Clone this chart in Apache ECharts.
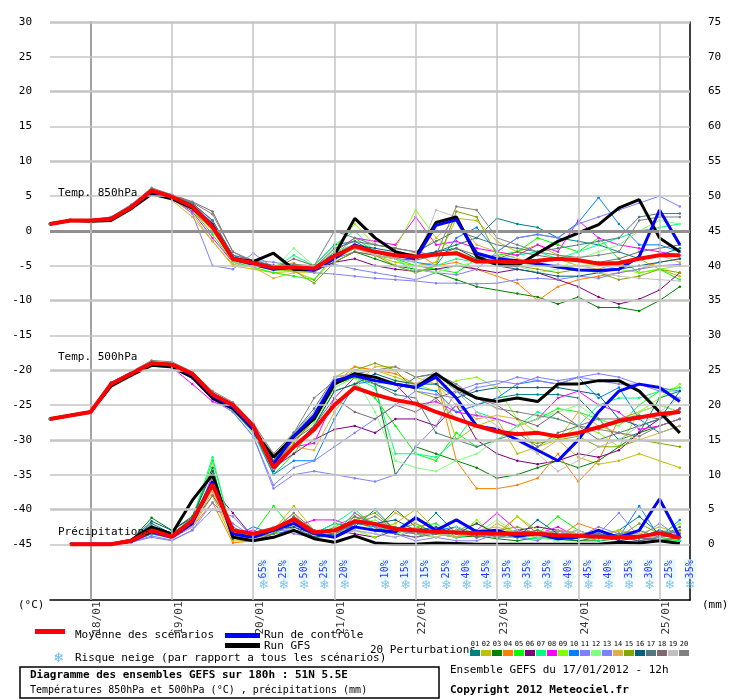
<!DOCTYPE html>
<html><head><meta charset="utf-8">
<script src="https://cdn.jsdelivr.net/npm/echarts@6/dist/echarts.min.js"></script>
<style>html,body{margin:0;padding:0;background:#fff}#c{width:740px;height:700px}</style>
</head><body><div id="c"></div>
<script>
// hours since 18/01 00h (run 17/01 12h)
const hours = [-12,-6,0,6,12,18,24,30,36,42,48,54,60,66,72,78,84,90,96,102,108,114,120,126,132,138,144,150,156,162,168,174];
const dateTicks = [0,24,48,72,96,120,144,168];
const dateLabels = ['18/01','19/01','20/01','21/01','22/01','23/01','24/01','25/01'];
const leftTicks = [30,25,20,15,10,5,0,-5,-10,-15,-20,-25,-30,-35,-40,-45];

const t850Mean = [1,1.5,1.5,1.7,3.4,5.8,4.9,3.5,0.6,-4,-4.6,-5.3,-5.2,-5.4,-3.6,-2.2,-3,-3.5,-3.7,-3.4,-3.2,-4.4,-4.4,-4.5,-4.3,-4,-4.2,-4.7,-4.6,-4,-3.5,-3.5];
const t850GFS = [1,1.5,1.4,1.5,3.2,5.3,4.6,3.3,0.8,-4,-4.4,-3.2,-5.5,-5.6,-3.5,1.8,-1,-3,-3.7,1.2,2,-3.7,-4.8,-5,-3.2,-1.5,-0.3,0.9,3.3,4.5,-1,-3];
const t850Ctrl = [1,1.5,1.5,1.7,3.4,5.6,4.8,3.5,0.5,-4,-4.8,-5.5,-5.2,-5.6,-4,-2,-3,-3.5,-4,0.8,1.6,-3.2,-4,-4.3,-4.7,-5.2,-5.6,-5.7,-5.5,-3.7,3,-2];
const t850P01 = [1,1.5,1.5,1.8,3.5,5.9,5.1,4,1.5,-3.5,-4.8,-5.5,-5.5,-5,-2,-1.5,-3,-3.5,-4,-3,-2,-1,1.8,1,0.5,-1,-1.5,-2,-3,-4,-3.5,-2.5];
const t850P02 = [1,1.5,1.5,1.6,3.3,5.6,4.6,2.5,-1.5,-5,-5.5,-6,-5.8,-7,-4,-2,-3.5,-4.5,-5,-4.5,1.8,1.5,-1.5,-3,-2,-3.5,-4,-4.5,-5,-4,-5.5,-6.5];
const t850P03 = [1,1.5,1.5,1.7,3.4,5.7,4.8,3.4,0.5,-4.2,-4.8,-5.3,-5.4,-5.6,-4.5,-3,-4,-5,-5.5,-6,-7,-8,-8.5,-9,-9.5,-10.5,-9.5,-11,-11,-11.5,-10,-8];
const t850P04 = [1,1.5,1.5,1.7,3.3,5.5,4.6,3,0,-4.3,-5,-5,-4.6,-6,-4,-2.5,-3.5,-4,-3,-5,-4.5,-5.5,-6.5,-7.5,-10,-8,-7,-6.5,-6,-5.5,-4.5,-4];
const t850P05 = [1,1.5,1.5,1.7,3.5,5.8,4.7,3,-0.5,-4.5,-5.2,-6,-6.5,-7,-3.5,-1,-3,-4,-5,-5.5,-6,-4,-3.5,-3,-1,-2,-3,-1,-4,-6,-5.5,-7];
const t850P06 = [1,1.5,1.5,1.7,3.4,5.7,4.8,3.4,0.6,-4,-4.5,-5,-5.5,-5.8,-4.5,-4,-5,-5.5,-5.8,-5.5,-5,-5.5,-6,-5.5,-6,-7,-8,-9.5,-10.5,-9.8,-8.5,-6];
const t850P07 = [1,1.5,1.5,1.7,3.4,5.9,5,3.6,0.8,-4,-4.7,-5.4,-3.5,-5,-2,0,-3,-4,-6,-5,-4,-4.5,-4,-3.5,-3,-4,-3,-2,-1,0,0.5,1];
const t850P08 = [1,1.5,1.5,1.7,3.4,5.8,4.7,2.8,-1,-4.5,-5,-5.5,-5.2,-5.5,-3,-1,-1.5,-2,2,-2,-1.5,-2.5,-3,-3.5,-2,-3,1.5,-1,-2,-2.5,-3,-3.5];
const t850P09 = [1,1.5,1.5,1.7,3.4,5.7,4.9,3.3,0.3,-4.2,-5,-5.6,-5.8,-6,-2.5,1,-2,-2.5,3,-1,-3,-4,-4.2,-4.5,-5,-5.2,-5,-4.8,-5.5,-6,-5.5,-5];
const t850P10 = [1,1.5,1.5,1.8,3.5,5.9,5,3.8,1,-3.8,-4.5,-5.3,-5.6,-5.5,-3,-2,-3,-4,-4.5,-5,-1,0.5,-3,-1,-0.5,-1,1.2,4.8,1,-2,-2,-3];
const t850P11 = [1,1.6,1.6,2,3.7,6,5,3.9,1.2,-3.5,-4.2,-4.5,-5,-5.5,-4.8,-5.5,-6,-6.5,-7,-6,-6.3,-5.5,-3,-1,-0.5,-1,1,2,3,4,5,3.5];
const t850P12 = [1,1.5,1.5,1.5,3.2,5.5,4.6,3.2,0.2,-4.5,-5,-5.5,-2.5,-5,-3,-2,-3.5,-4,-5.5,-6,-5,-4.5,-4.8,-5,-6,-5.5,-4,-3,-2,0,1.5,1];
const t850P13 = [1,1.6,1.6,1.9,3.6,6,4.8,2.5,-5,-5.5,-3.2,-5.3,-5.6,-6,-6.2,-6.5,-6.8,-7,-7.2,-7.5,-7.5,-7.6,-7.5,-7,-6.8,-7,-6.5,-6.8,-6,-5.5,-5,-4.8];
const t850P14 = [1,1.5,1.5,1.6,3.2,5.4,4.4,2,-1.5,-4.8,-5.2,-6.8,-6,-5.8,-4,-2.5,-3,-4,-3.5,-1,1.6,-2,-3,-4,-4.5,-4,-5,-5.5,-4.5,-4,-3.5,-4.5];
const t850P15 = [1,1.5,1.5,1.7,3.4,5.6,4.7,3.2,0.4,-4.3,-4.8,-5.5,-5.7,-7.5,-4.5,-3,-3.5,-5,-6,-5,2.8,2,-3.5,-5,-5.5,-6,-5.5,-6,-7,-6.5,-5.5,-6];
const t850P16 = [1,1.5,1.5,1.8,3.5,5.8,5.1,3.8,1,-3.8,-4.5,-5,-5.3,-5.6,-3.5,-2,-2.5,-3,-3.5,-3,-2.5,-4,-5,-5.5,-6,-6.5,-6.5,-6,-5.5,-5,-4.5,-4];
const t850P17 = [1,1.5,1.5,1.8,3.6,5.9,5.2,4,1.5,-3.5,-4.2,-5,-5.5,-5.3,-2.5,-1.5,-2,-2.5,-3,-1.5,0,-1,-2,-2.5,-3,-2.5,-2,-1.5,-1,2,2.5,2.5];
const t850P18 = [1,1.5,1.5,1.8,3.6,5.9,5.2,4.2,2.8,-3,-4.5,-5.5,-4,-5,-4,-3,-3.5,-4,-4.2,-3.5,-2.5,-3.5,-4,-3,-3.5,-4,-4.2,-4.5,-4,-3,-2.5,-2];
const t850P19 = [1,1.5,1.5,1.7,3.4,5.7,4.8,3.4,0.5,-4,-4.6,-5.2,-5.4,-5.5,-3.5,-2.5,-3.5,-4,-4.5,3,2,-3,-4,-4.5,-5,-4.8,-5.5,-6,-6.5,-6.8,-7,-7.2];
const t850P20 = [1,1.6,1.6,2,3.8,6.2,5.2,4.1,2.4,-3,-4.3,-5.3,-4.8,-5,0,-1,-2,-2.5,-3,-3.5,3.5,3,-1,-2,-3,-3.5,-3.8,-3.5,-3,1.5,2,2];

const t500Mean = [-27,-26.5,-26,-22,-20.5,-19,-19.2,-20.5,-23.5,-25,-28,-34,-31,-28.5,-25,-22.5,-23.5,-24.3,-24.8,-26,-27,-28,-28.8,-29.2,-29,-29.5,-29,-28.2,-27.3,-26.8,-26.3,-26];
const t500GFS = [-27,-26.5,-26,-22.3,-20.7,-19.3,-19.5,-21,-24,-25.5,-28.5,-32.5,-29.5,-27,-22,-20.5,-21,-22,-22.5,-20.5,-22.5,-24,-24.5,-24,-24.5,-22,-22,-21.5,-21.5,-23,-26,-29];
const t500Ctrl = [-27,-26.5,-26,-22,-20.5,-19,-19.2,-20.7,-23.7,-25.3,-28.5,-33.5,-29.5,-26.5,-21.5,-20.8,-21.5,-22,-22.5,-21,-24,-28,-28.5,-30,-31.5,-33,-30,-26,-23,-22,-22.5,-24.5];
const t500P01 = [-27,-26.5,-26,-21.8,-20.3,-18.8,-19,-20.3,-23.2,-24.8,-27.8,-33,-30,-27,-22,-21,-22,-23,-21,-20.5,-23,-25,-24,-23.5,-23.5,-23.5,-24,-27,-30,-29,-24,-23];
const t500P02 = [-27,-26.5,-26,-22.2,-20.6,-19.2,-19.5,-21,-24,-25.5,-28.5,-34,-30,-27,-21,-19.5,-20,-21,-22,-21,-30,-28,-27,-32,-31,-30,-32.5,-33.5,-33,-32,-33,-34];
const t500P03 = [-27,-26.5,-26,-21.9,-20.4,-18.9,-19.1,-20.6,-23.4,-25,-28,-33,-29,-26,-22,-21,-22,-35,-31,-32,-33,-34,-35.5,-35,-34,-33,-34,-33,-31,-29,-28,-27];
const t500P04 = [-27,-26.5,-26,-22,-20.6,-19,-19.3,-20.8,-23.8,-25.4,-28.4,-34,-30,-27,-22,-19.5,-20,-20.5,-22,-21,-33,-37,-37,-36.5,-35.5,-32,-36,-33,-27,-26,-25,-26];
const t500P05 = [-27,-26.5,-26,-22.1,-20.5,-19.1,-19.3,-20.9,-24,-25.8,-29,-35,-32,-28,-23,-22,-24,-28,-32,-33,-29,-31,-30,-28,-27,-25.5,-26,-27,-28,-25,-23,-22.5];
const t500P06 = [-27,-26.5,-26,-22,-20.5,-19,-19.2,-20.6,-23.6,-25.2,-28.2,-34,-32,-30,-28.5,-28,-29,-27,-27,-28,-25,-30,-32,-33,-33.5,-33,-32,-32.5,-31.5,-29,-27,-25.5];
const t500P07 = [-27,-26.5,-26,-21.9,-20.4,-19,-19.1,-20.4,-23.3,-24.9,-27.8,-33,-29,-27,-21.5,-21,-22.5,-32,-32,-32.5,-30,-26,-27,-28,-26,-27,-28,-25,-24,-24,-23,-23];
const t500P08 = [-27,-26.5,-26,-22.1,-20.6,-19.1,-19.6,-22,-24.5,-25.6,-28.6,-34,-31,-30.5,-24,-21,-21,-22,-25,-24.5,-26,-26.5,-27,-28,-27,-24,-23,-25,-26,-28.5,-28,-27];
const t500P09 = [-27,-26.5,-26,-22,-20.5,-18.8,-19,-20.4,-23.4,-25,-28,-33,-30,-27.5,-22.5,-21,-22,-21.5,-22,-23,-21.5,-21,-22.5,-27,-29,-30,-28,-29,-31,-26,-24,-22];
const t500P10 = [-27,-26.5,-26,-22,-20.6,-19.1,-19.4,-20.8,-23.8,-25.5,-28.6,-35,-33,-33,-27,-22,-21.5,-22,-22.5,-23,-26,-25,-24,-22,-21.5,-22,-21,-24,-22.5,-27,-29,-28];
const t500P11 = [-27,-26.5,-26,-22.2,-20.8,-19.4,-19.7,-21.2,-24.2,-26,-29.5,-37,-35,-34.5,-35,-35.5,-36,-35,-31,-28,-23,-22,-21.5,-22,-21,-21.5,-21,-21.5,-22,-22,-23,-24];
const t500P12 = [-27,-26.5,-26,-21.9,-20.4,-19,-19.2,-20.5,-23.5,-25.1,-28.1,-33,-30,-27.5,-22.5,-21,-26,-33,-34,-34.5,-33,-32,-30,-28,-27,-26,-25,-27,-28,-26,-25,-26];
const t500P13 = [-27,-26.5,-26,-22.3,-20.8,-19.3,-19.6,-21,-24.2,-26,-29.5,-36.5,-34,-33,-31,-29,-27,-25,-23,-23.5,-24,-22.5,-22,-21,-21.5,-22,-21,-20.5,-21,-22,-22.5,-23];
const t500P14 = [-27,-26.5,-26,-22,-20.5,-19.2,-19.4,-20.8,-23.9,-25.5,-28.5,-34,-31,-31.5,-26,-22,-19.5,-19.5,-21,-22,-25,-27,-26.5,-27,-32,-30,-26,-28,-29,-30,-29,-28];
const t500P15 = [-27,-26.5,-26,-22,-20.5,-19,-19.2,-20.6,-23.6,-25.2,-28.3,-33.5,-30.5,-27,-22,-20,-19,-20,-23,-24,-27,-28,-29,-30,-30.5,-30,-29.5,-31,-31,-30,-30.5,-31];
const t500P16 = [-27,-26.5,-26,-22.1,-20.6,-19.1,-19.3,-20.7,-23.7,-25.3,-28.4,-34.5,-31,-28,-23,-22,-20.5,-21.5,-22,-22,-24,-23,-22.5,-22.5,-22.5,-22.5,-23,-23.5,-27,-28,-27,-23];
const t500P17 = [-27,-26.5,-26,-21.8,-20.3,-18.9,-19,-20.3,-23.3,-24.8,-27.7,-33,-29,-25.5,-21,-20.5,-22,-23.5,-24,-29,-30,-31,-30,-29,-31,-29,-28,-30,-29,-28,-27,-26];
const t500P18 = [-27,-26.5,-26,-22,-20.5,-19,-19.2,-20.5,-23.5,-25,-28,-33,-30,-28,-24,-26,-27,-25,-26,-24,-23,-24,-25,-27,-28,-26,-28,-27,-27,-26.5,-27,-25.5];
const t500P19 = [-27,-26.5,-26,-21.9,-20.4,-18.9,-19.1,-20.4,-23.4,-24.9,-27.9,-32,-29,-26,-21,-20.5,-21,-22,-22,-20,-23,-26,-28,-30,-32,-34.5,-33,-31,-30,-28,-26,-24];
const t500P20 = [-27,-26.5,-26,-21.8,-20.2,-18.6,-18.8,-20.2,-23,-24.6,-27.6,-32,-29,-24,-21.5,-20.5,-20,-19.5,-21,-20.5,-22,-24,-25.5,-26,-26.5,-27,-28,-28.5,-29,-29.5,-28,-27];

const prMean = [null,0,0,0,0.5,2,1.1,3.4,8.6,2,1.5,2.2,3.6,1.7,2,3.3,2.9,2.2,2,1.8,1.7,1.6,1.5,1.5,1.5,1.3,1.2,1.1,1,1.1,1.6,0.9];
const prGFS = [null,0,0,0,0.6,2.5,1.5,6.3,10,1,0.5,1,2,0.8,0.3,1.2,0.2,0,0,0.2,0.1,0,0,0,0,0,0,0,0.3,0.2,0.5,0.1];
const prCtrl = [null,0,0,0,0.4,1.8,1,3,9,1.5,1,2,3,1.5,1,2.5,2,1.8,3.8,2,3.5,1.8,2,1.2,1.5,0.8,1,2,1,2,6.5,1];
const prP01 = [null,0,0,0,0.5,3,1.5,3.5,9,1,1,2,3,1.5,3,2.5,5,2,1.5,4.5,1.5,2,1,2,1.5,1,0.5,1,2,4,1.5,1];
const prP02 = [null,0,0,0,0.3,1.5,0.8,2.5,7,0.5,0.5,2,5.5,2,1,3.5,2,3,5,2,1.5,1,3,1.5,1,2,1.5,0.5,1,1.5,2.5,1.5];
const prP03 = [null,0,0,0,0.6,3.8,2,4,11,0.8,1,1.5,3,1,1.2,2.5,2,5,2.5,1.5,1,1.2,0.8,0.5,1,0.7,0.5,0.5,0.8,1,1.5,1];
const prP04 = [null,0,0,0,0.3,1.5,1,2.5,6,0.2,0.5,1.5,4,2,1.5,4.5,3,2,1.5,1,2,3,1.5,4,1.5,1,3,2,1,1.5,1,0.5];
const prP05 = [null,0,0,0,0.5,2.5,1.5,3,12,1.5,1.5,5.5,2,1,2.5,4,2,1.5,2.5,3,1,2,1.5,1,1.5,4,2,1,1.5,1,0.5,0.5];
const prP06 = [null,0,0,0,0.4,2,1.2,3,8,4.5,1,2,2.5,1.5,2,1.5,1,2,1.8,1.5,2.5,1.5,1,2,2.5,2,1,1.5,1,0.5,1,2];
const prP07 = [null,0,0,0,0.5,2.2,1.3,3.6,12.5,1,1,2.5,3,1.5,3,5,2.5,2,1.5,2,1,1.5,1,1,0.8,1,1.2,0.5,1,0.8,1,0.5];
const prP08 = [null,0,0,0,0.4,1.8,1,2.5,10,1.5,2,1,2.5,3.5,3.5,2.5,2,1.5,1,2,1.5,2,4.5,2,1.5,2.5,1,1.5,0.5,1,0.5,1];
const prP09 = [null,0,0,0,0.5,2,1.2,3.2,9.5,1,1,1.5,3.5,1.5,1.5,2,1,2.5,1.5,1.5,1,3.5,1,4,2,1.5,1,1.5,2,1,1.5,3];
const prP10 = [null,0,0,0,0.4,1.5,1,2.8,8.5,1,2.5,1.5,2,1.5,1,3,2.5,1.5,4,2,2.5,1,1.5,2,1,2,1.5,1.5,1,5.5,1,3.5];
const prP11 = [null,0,0,0,0.3,1,0.5,2,5,4,1,2.5,1.5,1,1.5,4.5,2.5,1.5,0.5,1,0.5,0.5,1.5,1,0.5,2,1,1.5,4.5,1,3,1];
const prP12 = [null,0,0,0,0.5,2.4,1.4,3.3,9,1.5,1,1.5,2.5,2,2,3,3.5,2,1.5,1,2.5,1.5,3.5,1.5,1,0.5,1,1,1.5,2,1,1.5];
const prP13 = [null,0,0,0,0.3,1.2,0.6,2,6,3,1,2,2,1.5,1,2,1.5,1,2,1.5,1,2,1,1.5,1.5,2,1,2.5,1.5,1,2,1.5];
const prP14 = [null,0,0,0,0.4,1.7,1,2.8,7.5,1,0.5,2,4.5,1,1.5,2.5,2,4.5,3,1.5,1,2,2.5,1.5,1,2,1.5,1,2,1.5,0.5,1];
const prP15 = [null,0,0,0,0.5,2.5,1.5,3.5,8,1,1,1.5,3,2,1.5,3.5,4.5,2,3,1.5,2,1,2,2.5,1.5,1,1,2,1,3,1.5,2];
const prP16 = [null,0,0,0,0.6,3.3,2,3.8,10.5,1.2,1,2,2.5,1,1.5,3,3,3.5,2,2.5,1.5,3,1.5,1,3.5,1.5,1,2,0.5,1,2,1];
const prP17 = [null,0,0,0,0.5,2.6,1.6,3.5,9.5,1.5,0.5,1.5,4,2,2,2.5,2,1.5,1,1.5,2,1.5,1,1.5,2,1,1,1.5,1,0.5,1,2.5];
const prP18 = [null,0,0,0,0.4,2,1,3,7,2.5,1,2,3.5,2,1.5,4,3,2.5,1.5,1.5,2,1,1.5,1,1.5,1.5,2,1,1.5,1,0.5,1];
const prP19 = [null,0,0,0,0.4,1.8,1.1,2.5,8,1,1.5,2.5,2,1.5,1,2,1.5,1,2.5,1,2,1.5,1,2,1,1.5,2,1,1,1.5,1,1.5];
const prP20 = [null,0,0,0,0.5,2.5,1.5,3.8,9,1,1,2,4.5,2,1.5,3,4,2,1.5,2,1.5,2,1,1.5,2,1,1.5,1,1.5,2,1,1.5];

const snowHours = [51,57,63,69,75,87,93,99,105,111,117,123,129,135,141,147,153,159,165,171,177];
const snowRisk = [65,25,50,25,20,10,15,15,25,40,45,35,35,35,40,45,40,35,30,25,35];

const memberColors = ['#008080','#c0c000','#008000','#ff8000','#00ff00','#800080','#00ff80','#ff00ff','#80ff00','#0080ff','#8080ff','#80ff80','#8080ff','#e0b040','#80a800','#006080','#507880','#806870','#c0c0c0','#808080'];
const t850P = [t850P01,t850P02,t850P03,t850P04,t850P05,t850P06,t850P07,t850P08,t850P09,t850P10,t850P11,t850P12,t850P13,t850P14,t850P15,t850P16,t850P17,t850P18,t850P19,t850P20];
const t500P = [t500P01,t500P02,t500P03,t500P04,t500P05,t500P06,t500P07,t500P08,t500P09,t500P10,t500P11,t500P12,t500P13,t500P14,t500P15,t500P16,t500P17,t500P18,t500P19,t500P20];
const prP = [prP01,prP02,prP03,prP04,prP05,prP06,prP07,prP08,prP09,prP10,prP11,prP12,prP13,prP14,prP15,prP16,prP17,prP18,prP19,prP20];

const pairs = arr => hours.map((h,i)=>[h, arr[i]===undefined?null:arr[i]]);
const FONT = 'DejaVu Sans Mono';
const series = [];
function member(arr, color, yi){
  series.push({type:'line', data:pairs(arr), yAxisIndex:yi, symbol:'circle', symbolSize:2.5, showSymbol:true,
    lineStyle:{width:1,color}, itemStyle:{color}, silent:true, animation:false, z:2, connectNulls:false});
}
t850P.forEach((a,i)=>member(a,memberColors[i],0));
t500P.forEach((a,i)=>member(a,memberColors[i],0));
prP.forEach((a,i)=>member(a,memberColors[i],1));
function main(arr,color,w,yi,z){
  series.push({type:'line', data:pairs(arr), yAxisIndex:yi, symbol:'none', lineStyle:{width:w,color}, animation:false, z});
}
[t850GFS,t500GFS,prGFS].forEach((a,i)=>main(a,'#000',3,i<2?0:1,3));
[t850Ctrl,t500Ctrl,prCtrl].forEach((a,i)=>main(a,'#0000ff',3,i<2?0:1,4));
[t850Mean,t500Mean,prMean].forEach((a,i)=>main(a,'#ff0000',4,i<2?0:1,5));

// grid lines
const hLines = leftTicks.map(v=>({yAxis:v, lineStyle:{color: v===0?'#909090':'#c4c4c4', width: v===0?3: (v%10===0?2.5:1.5), type:'solid'}}));
const vLines = dateTicks.map(v=>({xAxis:v, lineStyle:{color:'#c4c4c4',width:1.5,type:'solid'}}));
series.push({type:'line', data:[], yAxisIndex:0, silent:true, z:1,
  markLine:{symbol:'none', silent:true, label:{show:false}, animation:false, data:hLines.concat(vLines)}});

// snow risk
series.push({type:'scatter', yAxisIndex:0, z:6, silent:true, animation:false,
  data: snowHours.map((h,i)=>[h,-48.6,snowRisk[i]]), symbolSize:1, itemStyle:{color:'transparent'},
  label:{show:true, formatter:p=>p.data[2]+'%', rotate:90, position:'inside', color:'#0000ff',
    fontFamily:FONT, fontSize:10, backgroundColor:'#e0f8ff', padding:[1,1]}});
series.push({type:'scatter', yAxisIndex:0, z:6, silent:true, animation:false,
  data: snowHours.map(h=>[h,-51]), symbolSize:1, itemStyle:{color:'transparent'},
  label:{show:true, formatter:'❄', position:'inside', color:'#60b8f0', fontSize:13, fontFamily:'DejaVu Sans'}});

// date tick labels: anchored on the x axis line, padded so the rotated text hangs below it
series.push({type:'scatter', yAxisIndex:0, z:6, silent:true, animation:false, clip:false,
  data: dateTicks.map((h,i)=>[h+2,-53,dateLabels[i]]), symbolSize:1, itemStyle:{color:'transparent'},
  label:{show:true, formatter:p=>p.data[2], rotate:90, position:'inside', color:'#000', fontFamily:FONT, fontSize:11,
    padding:[0,36,0,0]}});

const option = {
  animation:false,
  backgroundColor:'#fff',
  grid:{left:50, right:50, top:22, bottom:100, containLabel:false},
  xAxis:{type:'value', min:-12, max:177,
      axisLine:{show:true,onZero:false,lineStyle:{color:'#000',width:1.5}},
      axisTick:{show:false}, splitLine:{show:false}, axisLabel:{show:false}},
  yAxis:[
    {type:'value', min:-53, max:30, position:'left',
      axisLine:{show:true,lineStyle:{color:'#000',width:1.5}}, axisTick:{show:false}, splitLine:{show:false},
      axisLabel:{customValues:leftTicks, color:'#000', fontFamily:FONT, fontSize:11, margin:18}},
    {type:'value', min:-8, max:75, position:'right',
      axisLine:{show:true,lineStyle:{color:'#000',width:1.5}}, axisTick:{show:false}, splitLine:{show:false},
      axisLabel:{customValues:leftTicks.map(v=>v+45), color:'#000', fontFamily:FONT, fontSize:11, margin:18}}
  ],
  series,
  graphic:[
    {type:'text', left:58, top:188, z:10, style:{text:'Temp. 850hPa', font:'11px '+FONT, fill:'#000'}},
    {type:'text', left:58, top:352, z:10, style:{text:'Temp. 500hPa', font:'11px '+FONT, fill:'#000'}},
    {type:'text', left:58, top:527, z:10, style:{text:'Précipitations', font:'11px '+FONT, fill:'#000'}},
    {type:'text', left:18, top:600, style:{text:'(°C)', font:'11px '+FONT, fill:'#000'}},
    {type:'text', left:702, top:600, style:{text:'(mm)', font:'11px '+FONT, fill:'#000'}},
    {type:'rect', shape:{x:35,y:629,width:30,height:5}, style:{fill:'#ff0000'}},
    {type:'text', left:75, top:630, style:{text:'Moyenne des scénarios', font:'11px '+FONT, fill:'#000'}},
    {type:'rect', shape:{x:225,y:633,width:35,height:5}, style:{fill:'#0000ff'}},
    {type:'text', left:264, top:630, style:{text:'Run de contrôle', font:'11px '+FONT, fill:'#000'}},
    {type:'rect', shape:{x:225,y:643,width:35,height:5}, style:{fill:'#000'}},
    {type:'text', left:264, top:641, style:{text:'Run GFS', font:'11px '+FONT, fill:'#000'}},
    {type:'text', left:53, top:652, style:{text:'❄', font:'13px DejaVu Sans', fill:'#60b8f0'}},
    {type:'text', left:75, top:653, style:{text:'Risque neige (par rapport a tous les scénarios)', font:'11px '+FONT, fill:'#000'}},
    {type:'text', left:370, top:645, style:{text:'20 Perturbations', font:'11px '+FONT, fill:'#000'}},
    ...memberColors.map((c,i)=>({type:'rect', shape:{x:470+i*11,y:650,width:10,height:6}, style:{fill:c}})),
    ...memberColors.map((c,i)=>({type:'text', x:475+i*11, y:644, style:{text:String(i+1).padStart(2,'0'), font:'7px '+FONT, fill:'#000', textAlign:'center', textVerticalAlign:'middle'}})),
    {type:'rect', shape:{x:20,y:667,width:419,height:31}, style:{fill:'none', stroke:'#000', lineWidth:1.5}},
    {type:'text', left:30, top:670, style:{text:'Diagramme des ensembles GEFS sur 180h : 51N 5.5E', font:'bold 11px '+FONT, fill:'#000'}},
    {type:'text', left:30, top:685, style:{text:'Températures 850hPa et 500hPa (°C) , précipitations (mm)', font:'10px '+FONT, fill:'#000'}},
    {type:'text', left:450, top:665, style:{text:'Ensemble GEFS du 17/01/2012 - 12h', font:'11px '+FONT, fill:'#000'}},
    {type:'text', left:450, top:685, style:{text:'Copyright 2012 Meteociel.fr', font:'bold 11px '+FONT, fill:'#000'}}
  ]
};
const chart = echarts.init(document.getElementById('c'), null, {renderer:'canvas'});
chart.setOption(option);
</script></body></html>
